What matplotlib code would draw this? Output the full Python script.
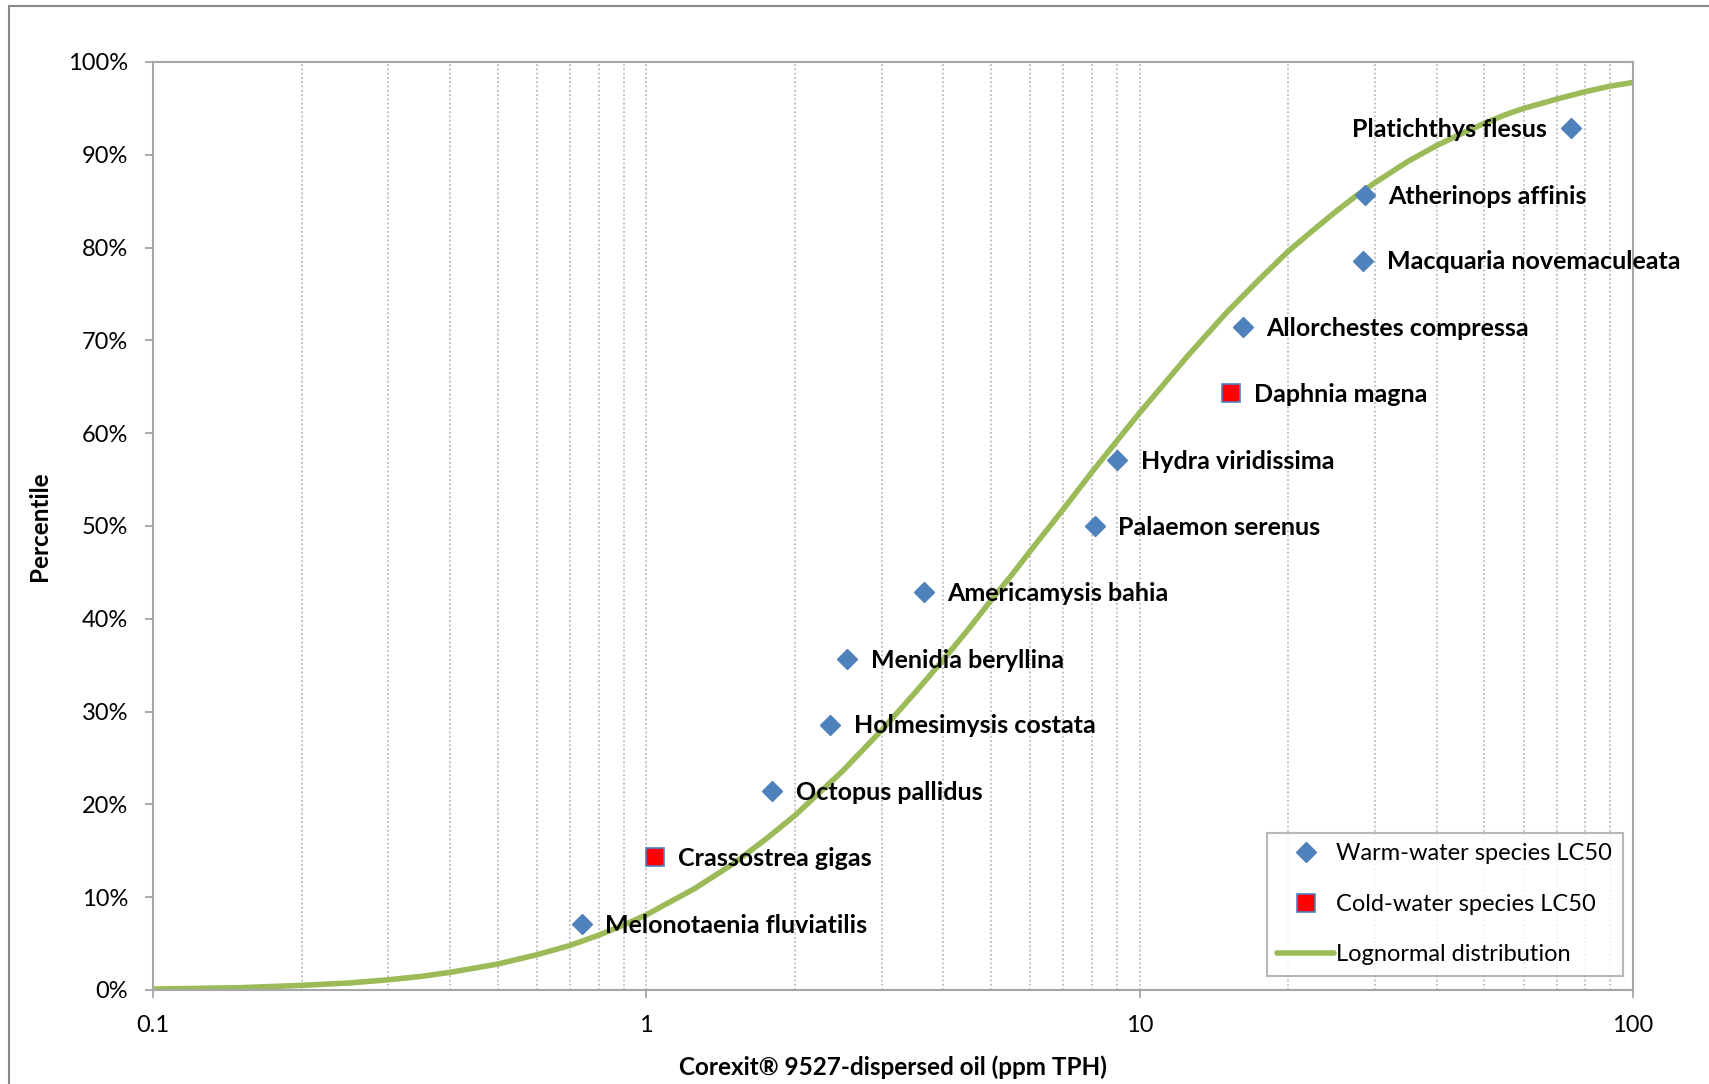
import matplotlib.pyplot as plt
from matplotlib.ticker import PercentFormatter, FixedLocator, NullFormatter
from matplotlib.lines import Line2D

# Species LC50 values (ppm TPH) and their plotting percentiles
species = ["Melonotaenia fluviatilis", "Crassostrea gigas", "Octopus pallidus",
           "Holmesimysis costata", "Menidia beryllina", "Americamysis bahia",
           "Palaemon serenus", "Hydra viridissima", "Daphnia magna",
           "Allorchestes compressa", "Macquaria novemaculeata",
           "Atherinops affinis", "Platichthys flesus"]
lc50 = [0.74, 1.04, 1.80, 2.36, 2.55, 3.65, 8.1, 9.0, 15.3, 16.2, 28.4, 28.6, 74.8]
percentile = [7.1, 14.3, 21.4, 28.6, 35.7, 42.9, 50.0, 57.1, 64.3, 71.4, 78.6, 85.7, 92.9]
water = ["warm", "cold", "warm", "warm", "warm", "warm", "warm", "warm", "cold",
         "warm", "warm", "warm", "warm"]

# Fitted lognormal curve (percent)
curve_x = [0.1, 0.15, 0.2, 0.25, 0.3, 0.35, 0.4, 0.5, 0.6, 0.7, 0.8, 0.9, 1, 1.25, 1.5,
           1.75, 2, 2.5, 3, 3.5, 4, 4.5, 5, 5.5, 6, 7, 8, 9, 10, 12.5, 15, 17.5, 20,
           22.5, 25, 27.5, 30, 35, 40, 45, 50, 55, 60, 70, 80, 90, 100]
curve_y = [0.1, 0.25, 0.5, 0.76, 1.1, 1.47, 1.9, 2.8, 3.8, 4.8, 5.9, 7.0, 8.1, 10.9, 13.6,
           16.3, 18.8, 23.6, 28.0, 32.0, 35.6, 38.9, 42.0, 44.7, 47.3, 51.8, 55.8, 59.2,
           62.2, 68.3, 73.0, 76.6, 79.6, 81.9, 83.9, 85.6, 87.0, 89.3, 91.0, 92.3, 93.4,
           94.3, 95.0, 96.0, 96.8, 97.4, 97.8]

plt.rcParams['font.family'] = ['Lato', 'DejaVu Sans']

fig = plt.figure(figsize=(17.09, 10.84), dpi=100)
ax = fig.add_axes([153 / 1709, 1 - 990 / 1084, 1480 / 1709, 928 / 1084])

grey = '#A6A6A6'
blue = '#4F81BD'
green = '#9BBB59'

ax.plot(curve_x, [v / 100 for v in curve_y], color=green, lw=4,
        solid_capstyle='round', solid_joinstyle='round', zorder=2)

for name, x, p, kind in zip(species, lc50, percentile, water):
    if kind == "warm":
        ax.plot(x, p / 100, 'D', color=blue, ms=10, mec=blue, zorder=3)
    else:
        ax.plot(x, p / 100, 's', color='#FF0000', ms=13, mec=blue, mew=1.2, zorder=3)
    left = name == "Platichthys flesus"
    ax.annotate(name, (x, p / 100), xytext=(-17 if left else 17, -1),
                textcoords='offset points', ha='right' if left else 'left',
                va='center', fontsize=18, fontweight='bold', zorder=4)

ax.set_xscale('log')
ax.set_xlim(0.1, 100)
ax.set_ylim(0, 1)
ax.xaxis.set_major_locator(FixedLocator([0.1, 1, 10, 100]))
ax.set_xticklabels(['0.1', '1', '10', '100'])
ax.xaxis.set_minor_formatter(NullFormatter())
ax.set_yticks([i / 10 for i in range(11)])
ax.yaxis.set_major_formatter(PercentFormatter(1.0, decimals=0))

ax.grid(True, which='both', axis='x', color='#B0B0B0', linestyle=(0, (1.2, 1.6)), lw=1.1)
ax.grid(False, axis='y')
ax.tick_params(axis='both', which='major', length=6, width=1.3, color=grey,
               labelsize=17, pad=12)
ax.tick_params(axis='x', which='minor', length=0)
for s in ax.spines.values():
    s.set_color(grey)
    s.set_linewidth(1.5)

ax.set_xlabel('Corexit® 9527-dispersed oil (ppm TPH)', fontsize=17.5,
              fontweight='bold', labelpad=14)
ax.set_ylabel('Percentile', fontsize=17.5, fontweight='bold', labelpad=12)

handles = [
    Line2D([], [], marker='D', color=blue, ls='none', ms=10),
    Line2D([], [], marker='s', color='#FF0000', mec=blue, mew=1.2, ls='none', ms=13),
    Line2D([], [], color=green, lw=4, solid_capstyle='round'),
]
labels = ['Warm-water species LC50', 'Cold-water species LC50', 'Lognormal distribution']
leg = ax.legend(handles, labels, loc='lower right', bbox_to_anchor=(1623 / 1709, 1 - 976 / 1084),
                bbox_transform=fig.transFigure, fontsize=17, frameon=True, fancybox=False,
                edgecolor=grey, handlelength=2.4, handletextpad=0.1, labelspacing=1.25,
                borderpad=0.45, borderaxespad=0)
leg.get_frame().set_linewidth(1.5)

# outer chart border
fig.add_artist(Line2D([9 / 1709, 9 / 1709], [0, 1 - 6 / 1084], color='#888888', lw=1.5))
fig.add_artist(Line2D([9 / 1709, 1], [1 - 6 / 1084, 1 - 6 / 1084], color='#888888', lw=1.5))

fig.savefig('out.png', dpi=100)
